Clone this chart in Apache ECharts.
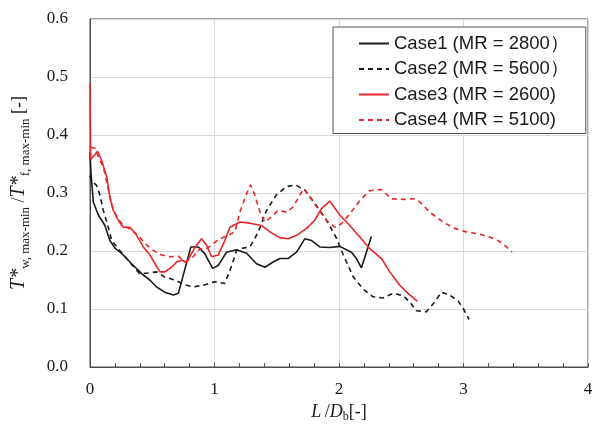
<!DOCTYPE html>
<html>
<head>
<meta charset="utf-8">
<script src="https://cdn.jsdelivr.net/npm/echarts@6/dist/echarts.min.js"></script>
<style>
  html, body { margin: 0; padding: 0; background: #ffffff; }
  #chart { width: 593px; height: 425px; }
</style>
</head>
<body>
<div id="chart"></div>
<script>
// Wall temperature amplitude ratio along the pipe, four cases
const caseNames = [
  'Case1 (MR = 2800）',
  'Case2 (MR = 5600）',
  'Case3 (MR = 2600)',
  'Case4 (MR = 5100)'
];

// [L/Db, ratio]
const case1 = [
  [0, 0.37], [0.008, 0.334], [0.027, 0.284], [0.067, 0.262], [0.12, 0.244], [0.16, 0.218],
  [0.2, 0.205], [0.254, 0.196], [0.334, 0.178], [0.415, 0.161], [0.48, 0.15], [0.535, 0.138],
  [0.6, 0.129], [0.67, 0.124], [0.71, 0.127], [0.76, 0.167], [0.81, 0.207], [0.87, 0.207],
  [0.92, 0.196], [0.985, 0.17], [1.03, 0.175], [1.097, 0.198], [1.177, 0.202], [1.258, 0.196],
  [1.338, 0.178], [1.405, 0.172], [1.471, 0.181], [1.525, 0.187], [1.59, 0.187], [1.659, 0.198],
  [1.725, 0.221], [1.78, 0.218], [1.846, 0.207], [1.926, 0.206], [2.006, 0.208], [2.1, 0.198],
  [2.14, 0.187], [2.18, 0.171], [2.22, 0.198], [2.26, 0.225]
];

const case2 = [
  [0, 0.33], [0.008, 0.322], [0.053, 0.313], [0.08, 0.296], [0.107, 0.27], [0.147, 0.241],
  [0.174, 0.218], [0.227, 0.204], [0.294, 0.187], [0.361, 0.17], [0.4, 0.161], [0.468, 0.162],
  [0.535, 0.164], [0.6, 0.155], [0.68, 0.15], [0.76, 0.142], [0.83, 0.138], [0.91, 0.141],
  [1.0, 0.147], [1.083, 0.144], [1.137, 0.174], [1.177, 0.201], [1.23, 0.205], [1.284, 0.207],
  [1.35, 0.232], [1.418, 0.27], [1.498, 0.297], [1.578, 0.311], [1.65, 0.314], [1.725, 0.305],
  [1.8, 0.284], [1.9, 0.253], [1.98, 0.222], [2.033, 0.194], [2.113, 0.156], [2.194, 0.134],
  [2.274, 0.121], [2.354, 0.119], [2.434, 0.127], [2.515, 0.123], [2.568, 0.112], [2.622, 0.097],
  [2.7, 0.095], [2.769, 0.112], [2.822, 0.129], [2.889, 0.124], [2.956, 0.114], [3.0, 0.1],
  [3.045, 0.082]
];

const case3 = [
  [0, 0.49], [0.005, 0.358], [0.035, 0.365], [0.061, 0.372], [0.094, 0.356], [0.134, 0.328],
  [0.16, 0.293], [0.187, 0.27], [0.227, 0.253], [0.267, 0.241], [0.321, 0.241], [0.375, 0.227],
  [0.428, 0.207], [0.482, 0.193], [0.522, 0.178], [0.562, 0.164], [0.602, 0.164], [0.655, 0.172],
  [0.696, 0.181], [0.736, 0.184], [0.776, 0.18], [0.816, 0.196], [0.856, 0.21], [0.896, 0.221],
  [0.937, 0.21], [0.977, 0.19], [1.03, 0.193], [1.083, 0.218], [1.124, 0.241], [1.204, 0.25],
  [1.284, 0.248], [1.378, 0.244], [1.445, 0.233], [1.525, 0.223], [1.592, 0.221], [1.659, 0.227],
  [1.739, 0.239], [1.806, 0.253], [1.859, 0.273], [1.926, 0.286], [2.006, 0.262], [2.087, 0.244],
  [2.167, 0.224], [2.247, 0.204], [2.341, 0.187], [2.408, 0.164], [2.488, 0.141], [2.555, 0.127],
  [2.63, 0.113]
];

const case4 = [
  [0.005, 0.379], [0.04, 0.377], [0.08, 0.356], [0.107, 0.345], [0.134, 0.319], [0.174, 0.279],
  [0.214, 0.259], [0.267, 0.244], [0.334, 0.236], [0.388, 0.227], [0.441, 0.213], [0.508, 0.201],
  [0.575, 0.193], [0.642, 0.19], [0.709, 0.191], [0.762, 0.181], [0.816, 0.187], [0.883, 0.204],
  [0.937, 0.204], [0.99, 0.213], [1.043, 0.221], [1.11, 0.227], [1.164, 0.233], [1.204, 0.267],
  [1.258, 0.299], [1.29, 0.314], [1.324, 0.296], [1.364, 0.268], [1.404, 0.25], [1.458, 0.259],
  [1.511, 0.27], [1.578, 0.267], [1.632, 0.276], [1.685, 0.296], [1.718, 0.308], [1.766, 0.293],
  [1.832, 0.273], [1.9, 0.253], [1.966, 0.241], [2.02, 0.247], [2.087, 0.264], [2.167, 0.287],
  [2.247, 0.304], [2.341, 0.306], [2.42, 0.29], [2.515, 0.289], [2.608, 0.29], [2.648, 0.285],
  [2.729, 0.267], [2.835, 0.25], [2.929, 0.239], [3.023, 0.233], [3.13, 0.229], [3.21, 0.224],
  [3.277, 0.218], [3.33, 0.21], [3.39, 0.198]
];

const BLACK = '#1a1a1a';
const RED = '#e8262a';
const SERIF = '"Liberation Serif", "Times New Roman", serif';
const SANS = '"Liberation Sans", Arial, sans-serif';

function lineSeries(name, data, color, dashed) {
  return {
    name: name,
    type: 'line',
    data: data,
    showSymbol: false,
    symbol: 'none',
    smooth: false,
    lineStyle: { color: color, width: 1.6, type: dashed ? [5, 4] : 'solid' },
    itemStyle: { color: color },
    emphasis: { disabled: true },
    animation: false
  };
}

const chart = echarts.init(document.getElementById('chart'), null, { renderer: 'canvas' });

chart.setOption({
  backgroundColor: '#ffffff',
  animation: false,
  grid: {
    left: 90, right: 5, top: 19, bottom: 58,
    outerBoundsMode: 'none',
    containLabel: false,
    show: true, borderColor: '#4d4d4d', borderWidth: 1, backgroundColor: 'transparent'
  },
  legend: {
    data: caseNames,
    orient: 'vertical',
    left: 333, top: 27,
    itemWidth: 30, itemHeight: 14, itemGap: 6.5,
    padding: [7, 17, 4, 25],
    backgroundColor: '#ffffff',
    borderColor: '#555555', borderWidth: 1,
    itemStyle: { opacity: 0 },
    textStyle: { fontFamily: SANS, fontSize: 18.5, color: '#1a1a1a' },
    selectedMode: false
  },
  xAxis: {
    type: 'value',
    min: 0, max: 4, interval: 1,
    axisLine: { show: true, lineStyle: { color: '#4d4d4d', width: 1 } },
    axisTick: { show: true, inside: true, length: 4, lineStyle: { color: '#4d4d4d' } },
    minorTick: { show: true, splitNumber: 5, length: 4, lineStyle: { color: '#4d4d4d' } },
    splitLine: { show: true, lineStyle: { color: '#d9d9d9', width: 1 } },
    axisLabel: { fontFamily: SERIF, fontSize: 17, color: '#1a1a1a', margin: 14 },
    name: '{i|L} {n|/}{i|D}{s|b}{n|[-]}',
    nameLocation: 'middle',
    nameGap: 33,
    nameTextStyle: {
      rich: {
        i: { fontFamily: SERIF, fontStyle: 'italic', fontSize: 18, color: '#1a1a1a', lineHeight: 22 },
        n: { fontFamily: SERIF, fontSize: 18, color: '#1a1a1a', lineHeight: 22 },
        s: { fontFamily: SERIF, fontSize: 12, color: '#1a1a1a', lineHeight: 10, verticalAlign: 'bottom' }
      }
    }
  },
  yAxis: {
    type: 'value',
    min: 0, max: 0.6, interval: 0.1,
    axisLine: { show: true, lineStyle: { color: '#4d4d4d', width: 1 } },
    axisTick: { show: false },
    splitLine: { show: true, lineStyle: { color: '#d9d9d9', width: 1 } },
    axisLabel: {
      fontFamily: SERIF, fontSize: 17, color: '#1a1a1a', margin: 22,
      formatter: v => v.toFixed(1)
    },
    name: '{i|T*}{s|w, max-min}{n| /}{i|T*}{s|f, max-min}{n| [-]}',
    nameLocation: 'middle',
    nameRotate: 90,
    nameGap: 58,
    nameTextStyle: {
      rich: {
        i: { fontFamily: SERIF, fontStyle: 'italic', fontSize: 20, color: '#1a1a1a', lineHeight: 26 },
        n: { fontFamily: SERIF, fontSize: 18, color: '#1a1a1a', lineHeight: 26 },
        s: { fontFamily: SERIF, fontSize: 13, color: '#1a1a1a', lineHeight: 10, verticalAlign: 'bottom' }
      }
    }
  },
  series: [
    lineSeries(caseNames[0], case1, BLACK, false),
    lineSeries(caseNames[1], case2, BLACK, true),
    lineSeries(caseNames[2], case3, RED, false),
    lineSeries(caseNames[3], case4, RED, true)
  ]
});
</script>
</body>
</html>
